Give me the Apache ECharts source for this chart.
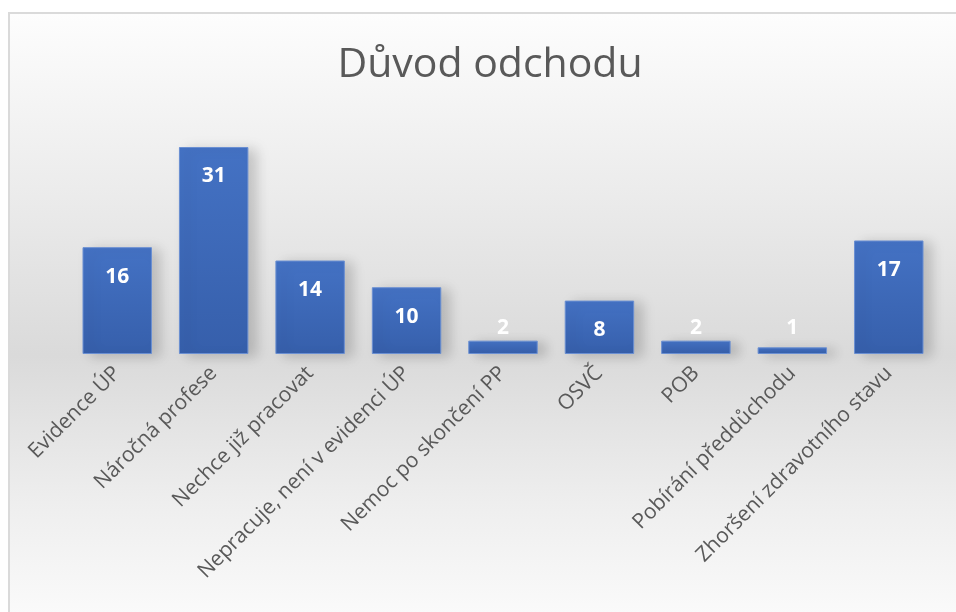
<!DOCTYPE html>
<html>
<head>
<meta charset="utf-8">
<script src="https://cdn.jsdelivr.net/npm/echarts@6/dist/echarts.min.js"></script>
<style>
  html, body { margin: 0; padding: 0; overflow: hidden; background: #fff; }
  #chart {
    position: absolute;
    left: 8px;
    top: 12px;
    width: 960px;
    height: 610px;
    border-left: 2px solid #dadada;
    border-top: 2px solid #dadada;
  }
</style>
</head>
<body>
<div id="chart"></div>
<script>
const title = 'Důvod odchodu';
const categories = [
  'Evidence ÚP',
  'Náročná profese',
  'Nechce již pracovat',
  'Nepracuje, není v evidenci ÚP',
  'Nemoc po skončení PP',
  'OSVČ',
  'POB',
  'Pobírání předdůchodu',
  'Zhoršení zdravotního stavu',
];
const counts = [16, 31, 14, 10, 2, 8, 2, 1, 17];

const myChart = echarts.init(document.getElementById('chart'));

// short bars get their label sitting above them, like Excel does
const barData = counts.map((v) => ({
  value: v,
  label: v < 4
    ? { position: 'insideBottom', distance: 15 }
    : { position: 'insideTop', distance: 19 },
}));

const option = {
  backgroundColor: {
    type: 'linear',
    x: 0, y: 0, x2: 0, y2: 1,
    colorStops: [
      { offset: 0, color: '#fdfdfd' },
      { offset: 0.3, color: '#ebebeb' },
      { offset: 0.56, color: '#dadada' },
      { offset: 0.8, color: '#eeeeee' },
      { offset: 1, color: '#fbfbfb' },
    ],
  },
  title: {
    text: title,
    left: 'center',
    top: 26,
    textStyle: {
      fontFamily: 'Open Sans',
      fontWeight: 'normal',
      fontSize: 41,
      color: '#595959',
    },
  },
  grid: {
    left: 59,
    right: 33,
    top: 133,
    bottom: 270,
  },
  xAxis: {
    type: 'category',
    data: categories,
    axisLine: { show: false },
    axisTick: { show: false },
    axisLabel: {
      interval: 0,
      rotate: 45,
      margin: 16,
      fontFamily: 'Open Sans',
      fontSize: 21,
      color: '#595959',
    },
  },
  yAxis: {
    type: 'value',
    min: 0,
    max: 31,
    show: false,
    splitLine: { show: false },
  },
  series: [
    {
      type: 'bar',
      data: barData,
      barWidth: '72%',
      itemStyle: {
        color: {
          type: 'linear',
          x: 0, y: 0, x2: 0, y2: 1,
          colorStops: [
            { offset: 0, color: '#4472c4' },
            { offset: 1, color: '#365fab' },
          ],
        },
        borderColor: '#6a8fd2',
        borderWidth: 1,
        shadowColor: 'rgba(0,0,0,0.18)',
        shadowBlur: 12,
        shadowOffsetX: 8,
        shadowOffsetY: 2,
      },
      label: {
        show: true,
        color: '#fff',
        fontFamily: 'Open Sans',
        fontWeight: 'bold',
        fontSize: 21,
      },
    },
  ],
};

myChart.setOption(option);
window.addEventListener('resize', () => {
  myChart.resize();
});
</script>
</body>
</html>
